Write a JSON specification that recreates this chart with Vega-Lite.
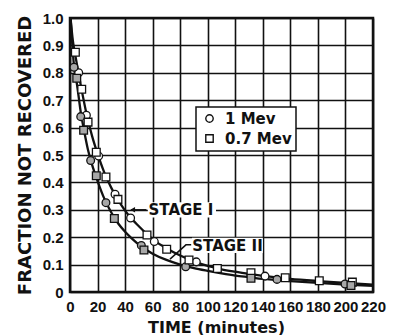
{
  "$schema": "https://vega.github.io/schema/vega-lite/v6.json",
  "width": 303,
  "height": 274,
  "autosize": {"type": "none"},
  "padding": {"left": 70, "top": 18, "right": 23, "bottom": 43},
  "background": "white",
  "config": {
    "view": {"stroke": "#111", "strokeWidth": 2.5},
    "axis": {
      "domain": false,
      "grid": true,
      "gridColor": "#111",
      "gridWidth": 1.6,
      "gridOpacity": 1,
      "ticks": false,
      "labelFont": "Liberation Sans",
      "labelFontWeight": "bold",
      "labelFontSize": 15,
      "labelColor": "#111",
      "titleFont": "DejaVu Sans",
      "titleFontWeight": "bold",
      "titleColor": "#111"
    },
    "legend": {
      "orient": "none",
      "legendX": 126,
      "legendY": 89,
      "padding": 4,
      "symbolOffset": 2,
      "strokeColor": "#111",
      "strokeWidth": 1.5,
      "fillColor": "white",
      "labelFont": "DejaVu Sans",
      "labelFontWeight": "bold",
      "labelFontSize": 15,
      "labelColor": "#111",
      "labelOffset": 8,
      "rowPadding": 4,
      "symbolSize": 55,
      "symbolStrokeWidth": 1.4,
      "symbolStrokeColor": "#111",
      "symbolFillColor": "white"
    }
  },
  "encoding": {
    "x": {
      "field": "t", "type": "quantitative",
      "scale": {"domain": [0, 220], "nice": false},
      "axis": {
        "tickCount": 11,
        "labelOverlap": false,
        "labelPadding": 7,
        "labelFlush": false,
        "title": "TIME (minutes)",
        "titleFontSize": 16,
        "titleX": 146,
        "titleY": 40,
        "titleAlign": "center",
        "titleBaseline": "alphabetic"
      }
    },
    "y": {
      "field": "f", "type": "quantitative",
      "scale": {"domain": [0, 1], "nice": false},
      "axis": {
        "tickCount": 10,
        "labelExpr": "datum.value == 0 ? '0' : format(datum.value, '.1f')",
        "labelOverlap": false,
        "labelPadding": 7,
        "labelFlush": false,
        "title": "FRACTION NOT RECOVERED",
        "titleFontSize": 18,
        "titleAngle": -90,
        "titleX": -40,
        "titleY": 137,
        "titleAlign": "center",
        "titleBaseline": "alphabetic"
      }
    }
  },
  "layer": [
    {
      "data": {"values": [
        {"series": "Stage I", "t": 0.4, "f": 1.0},
        {"series": "Stage I", "t": 2, "f": 0.92},
        {"series": "Stage I", "t": 4, "f": 0.86},
        {"series": "Stage I", "t": 8, "f": 0.75},
        {"series": "Stage I", "t": 12, "f": 0.65},
        {"series": "Stage I", "t": 16, "f": 0.57},
        {"series": "Stage I", "t": 20, "f": 0.505},
        {"series": "Stage I", "t": 25, "f": 0.435},
        {"series": "Stage I", "t": 30, "f": 0.38},
        {"series": "Stage I", "t": 35, "f": 0.335},
        {"series": "Stage I", "t": 40, "f": 0.297},
        {"series": "Stage I", "t": 45, "f": 0.266},
        {"series": "Stage I", "t": 50, "f": 0.24},
        {"series": "Stage I", "t": 56, "f": 0.21},
        {"series": "Stage I", "t": 62, "f": 0.185},
        {"series": "Stage I", "t": 70, "f": 0.16},
        {"series": "Stage I", "t": 80, "f": 0.133},
        {"series": "Stage I", "t": 90, "f": 0.112},
        {"series": "Stage I", "t": 100, "f": 0.095},
        {"series": "Stage I", "t": 110, "f": 0.083},
        {"series": "Stage I", "t": 120, "f": 0.074},
        {"series": "Stage I", "t": 130, "f": 0.066},
        {"series": "Stage I", "t": 140, "f": 0.059},
        {"series": "Stage I", "t": 150, "f": 0.053},
        {"series": "Stage I", "t": 160, "f": 0.048},
        {"series": "Stage I", "t": 180, "f": 0.040},
        {"series": "Stage I", "t": 200, "f": 0.033},
        {"series": "Stage I", "t": 220, "f": 0.027},
        {"series": "Stage II", "t": 0.4, "f": 1.0},
        {"series": "Stage II", "t": 2, "f": 0.88},
        {"series": "Stage II", "t": 3, "f": 0.82},
        {"series": "Stage II", "t": 5, "f": 0.76},
        {"series": "Stage II", "t": 8, "f": 0.65},
        {"series": "Stage II", "t": 10, "f": 0.595},
        {"series": "Stage II", "t": 13, "f": 0.52},
        {"series": "Stage II", "t": 16, "f": 0.465},
        {"series": "Stage II", "t": 20, "f": 0.405},
        {"series": "Stage II", "t": 25, "f": 0.34},
        {"series": "Stage II", "t": 30, "f": 0.29},
        {"series": "Stage II", "t": 35, "f": 0.25},
        {"series": "Stage II", "t": 40, "f": 0.22},
        {"series": "Stage II", "t": 45, "f": 0.195},
        {"series": "Stage II", "t": 52, "f": 0.165},
        {"series": "Stage II", "t": 60, "f": 0.14},
        {"series": "Stage II", "t": 70, "f": 0.117},
        {"series": "Stage II", "t": 80, "f": 0.1},
        {"series": "Stage II", "t": 90, "f": 0.087},
        {"series": "Stage II", "t": 100, "f": 0.077},
        {"series": "Stage II", "t": 110, "f": 0.068},
        {"series": "Stage II", "t": 120, "f": 0.06},
        {"series": "Stage II", "t": 130, "f": 0.054},
        {"series": "Stage II", "t": 140, "f": 0.048},
        {"series": "Stage II", "t": 150, "f": 0.044},
        {"series": "Stage II", "t": 160, "f": 0.040},
        {"series": "Stage II", "t": 180, "f": 0.033},
        {"series": "Stage II", "t": 200, "f": 0.027},
        {"series": "Stage II", "t": 220, "f": 0.022}
      ]},
      "mark": {"type": "line", "interpolate": "monotone", "color": "#111", "strokeWidth": 2.3, "clip": true},
      "encoding": {
        "detail": {"field": "series"}
      }
    },
    {
      "data": {"values": [
        {"series": "arrow", "t": 44.5, "f": 0.30},
        {"series": "arrow", "t": 55.5, "f": 0.30},
        {"series": "leader", "t": 72.6, "f": 0.12},
        {"series": "leader", "t": 84.2, "f": 0.172},
        {"series": "leader", "t": 88, "f": 0.172}
      ]},
      "mark": {"type": "line", "color": "#111", "strokeWidth": 1.5},
      "encoding": {
        "detail": {"field": "series"}
      }
    },
    {
      "data": {"values": [{"t": 45.5, "f": 0.30}]},
      "mark": {"type": "point", "shape": "triangle-left", "filled": true, "color": "#111", "size": 30, "opacity": 1},
      "encoding": {}
    },
    {
      "data": {"values": [
        {"t": 56.5, "t2": 106, "f": 0.272, "f2": 0.328},
        {"t": 88.5, "t2": 140, "f": 0.142, "f2": 0.198}
      ]},
      "mark": {"type": "rect", "color": "white"},
      "encoding": {
        "x2": {"field": "t2"},
        "y2": {"field": "f2"}
      }
    },
    {
      "data": {"values": [
        {"t": 57, "f": 0.30, "label": "STAGE I"},
        {"t": 88.8, "f": 0.168, "label": "STAGE II"}
      ]},
      "mark": {"type": "text", "align": "left", "baseline": "middle", "font": "DejaVu Sans", "fontWeight": "bold", "fontSize": 15, "color": "#111"},
      "encoding": {
        "text": {"field": "label"}
      }
    },
    {
      "data": {"values": [
        {"energy": "1 Mev", "stage": "I", "t": 6.3, "f": 0.80},
        {"energy": "1 Mev", "stage": "I", "t": 11.9, "f": 0.645},
        {"energy": "1 Mev", "stage": "I", "t": 20.8, "f": 0.496},
        {"energy": "1 Mev", "stage": "I", "t": 32.7, "f": 0.357},
        {"energy": "1 Mev", "stage": "I", "t": 44, "f": 0.27},
        {"energy": "1 Mev", "stage": "I", "t": 61.2, "f": 0.184},
        {"energy": "1 Mev", "stage": "I", "t": 91.7, "f": 0.11},
        {"energy": "1 Mev", "stage": "I", "t": 141.6, "f": 0.058},
        {"energy": "1 Mev", "stage": "II", "t": 2.9, "f": 0.82},
        {"energy": "1 Mev", "stage": "II", "t": 7.8, "f": 0.64},
        {"energy": "1 Mev", "stage": "II", "t": 15, "f": 0.48},
        {"energy": "1 Mev", "stage": "II", "t": 26.1, "f": 0.326},
        {"energy": "1 Mev", "stage": "II", "t": 51.8, "f": 0.17},
        {"energy": "1 Mev", "stage": "II", "t": 84, "f": 0.092},
        {"energy": "1 Mev", "stage": "II", "t": 150.3, "f": 0.046},
        {"energy": "1 Mev", "stage": "II", "t": 199.7, "f": 0.029},
        {"energy": "0.7 Mev", "stage": "I", "t": 3.9, "f": 0.875},
        {"energy": "0.7 Mev", "stage": "I", "t": 8.5, "f": 0.74},
        {"energy": "0.7 Mev", "stage": "I", "t": 13.1, "f": 0.62},
        {"energy": "0.7 Mev", "stage": "I", "t": 19.1, "f": 0.51},
        {"energy": "0.7 Mev", "stage": "I", "t": 26.1, "f": 0.42},
        {"energy": "0.7 Mev", "stage": "I", "t": 34.8, "f": 0.338},
        {"energy": "0.7 Mev", "stage": "I", "t": 55.9, "f": 0.208},
        {"energy": "0.7 Mev", "stage": "I", "t": 70.2, "f": 0.156},
        {"energy": "0.7 Mev", "stage": "I", "t": 86.4, "f": 0.117},
        {"energy": "0.7 Mev", "stage": "I", "t": 107, "f": 0.086},
        {"energy": "0.7 Mev", "stage": "I", "t": 131.4, "f": 0.07},
        {"energy": "0.7 Mev", "stage": "I", "t": 156.3, "f": 0.052},
        {"energy": "0.7 Mev", "stage": "I", "t": 181, "f": 0.041},
        {"energy": "0.7 Mev", "stage": "I", "t": 205, "f": 0.036},
        {"energy": "0.7 Mev", "stage": "II", "t": 4.9, "f": 0.78},
        {"energy": "0.7 Mev", "stage": "II", "t": 9.9, "f": 0.59},
        {"energy": "0.7 Mev", "stage": "II", "t": 19.1, "f": 0.424},
        {"energy": "0.7 Mev", "stage": "II", "t": 32.2, "f": 0.268},
        {"energy": "0.7 Mev", "stage": "II", "t": 53.7, "f": 0.153},
        {"energy": "0.7 Mev", "stage": "II", "t": 131.4, "f": 0.05},
        {"energy": "0.7 Mev", "stage": "II", "t": 204, "f": 0.024}
      ]},
      "mark": {"type": "point", "filled": true, "stroke": "#111", "strokeWidth": 1.3, "size": 60, "opacity": 1},
      "encoding": {
        "shape": {
          "field": "energy", "type": "nominal",
          "scale": {"domain": ["1 Mev", "0.7 Mev"], "range": ["circle", "square"]},
          "legend": {
            "title": null,
            "encode": {"symbols": {"update": {"fill": {"value": "white"}, "stroke": {"value": "#111"}}}}
          }
        },
        "fill": {
          "field": "stage", "type": "nominal",
          "scale": {"domain": ["I", "II"], "range": ["white", "#a8a8a8"]},
          "legend": null
        }
      }
    }
  ]
}
